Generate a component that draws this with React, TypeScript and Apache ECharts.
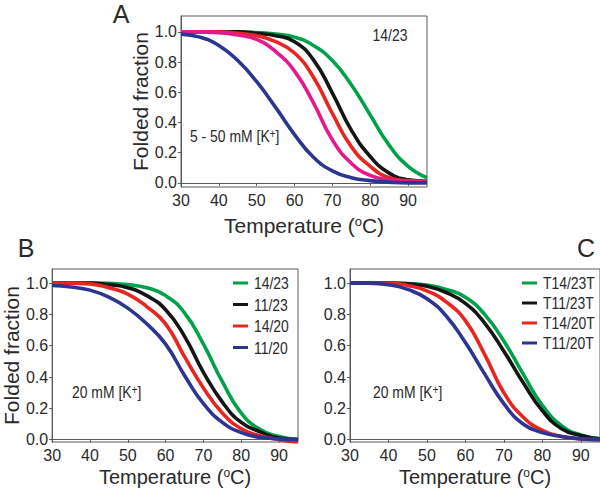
import React, { useEffect, useRef } from "react";
import * as echarts from "echarts";

const temps = [30, 35, 40, 45, 50, 55, 60, 65, 70, 75, 80, 85, 90, 95];
const xTicks = [30, 40, 50, 60, 70, 80, 90];
const yTicks = [0, 0.2, 0.4, 0.6, 0.8, 1.0];

// Panel A: 14/23 at 5 - 50 mM K+
const aGreen = [1.0, 1.0, 1.0, 1.0, 0.995, 0.985, 0.965, 0.91, 0.81, 0.65, 0.45, 0.25, 0.11, 0.035];
const aBlack = [1.0, 1.0, 1.0, 1.0, 0.99, 0.975, 0.935, 0.815, 0.595, 0.35, 0.175, 0.065, 0.02, 0.01];
const aRed = [1.0, 1.0, 1.0, 0.99, 0.975, 0.935, 0.86, 0.7, 0.46, 0.24, 0.11, 0.035, 0.015, 0.01];
const aMagenta = [1.0, 1.0, 0.995, 0.98, 0.95, 0.87, 0.74, 0.53, 0.285, 0.13, 0.05, 0.02, 0.01, 0.005];
const aBlue = [0.985, 0.965, 0.91, 0.81, 0.67, 0.5, 0.32, 0.17, 0.08, 0.035, 0.015, 0.005, 0.0, 0.0];

// Panel B: 20 mM K+
const bNames = ["14/23", "11/23", "14/20", "11/20"];
const bGreen = [1.0, 1.0, 1.0, 0.998, 0.99, 0.97, 0.92, 0.81, 0.61, 0.37, 0.17, 0.065, 0.02, 0.0];
const bBlack = [1.0, 1.0, 1.0, 0.99, 0.97, 0.92, 0.83, 0.66, 0.43, 0.24, 0.11, 0.05, 0.01, 0.0];
const bRed = [1.0, 1.0, 0.995, 0.97, 0.93, 0.85, 0.74, 0.53, 0.33, 0.17, 0.07, 0.025, 0.0, -0.015];
const bBlue = [0.985, 0.975, 0.955, 0.91, 0.84, 0.74, 0.61, 0.41, 0.23, 0.11, 0.045, 0.015, 0.005, 0.0];

// Panel C: 20 mM K+
const cNames = ["T14/23T", "T11/23T", "T14/20T", "T11/20T"];
const cGreen = [1.0, 1.0, 1.0, 0.997, 0.987, 0.96, 0.91, 0.8, 0.63, 0.42, 0.22, 0.09, 0.03, 0.005];
const cBlack = [1.0, 1.0, 1.0, 0.995, 0.98, 0.94, 0.87, 0.745, 0.565, 0.365, 0.185, 0.07, 0.027, 0.005];
const cRed = [1.0, 1.0, 1.0, 0.985, 0.95, 0.88, 0.76, 0.545, 0.3, 0.145, 0.06, 0.02, 0.005, 0.0];
const cBlue = [1.0, 1.0, 0.99, 0.96, 0.9, 0.79, 0.62, 0.42, 0.23, 0.1, 0.045, 0.02, 0.005, 0.0];

const GREEN = "#00a14b";
const BLACK = "#151515";
const RED = "#e8251f";
const MAGENTA = "#e6198c";
const BLUE = "#2c3592";
const COLORS4 = [GREEN, BLACK, RED, BLUE];

const FONT = "'Liberation Sans', Arial, Helvetica, sans-serif";
const AXIS = "#5a5a5a";
const TEXT = "#2a2a2a";
const NARROW_SCALE = 0.82;

const pairs = (vals: number[]) => temps.map((t, i) => [t, vals[i]]);

const tempName = "{n|Temperature (}{s|o}{n|C)}";
const tempRich = (size: number) => ({
  n: { fontSize: size, fontFamily: FONT, color: TEXT },
  s: { fontSize: Math.round(size * 0.6), fontFamily: FONT, color: TEXT, verticalAlign: "top" as const },
});

function xAxisFor(gridIndex: number, size: number, gap: number) {
  return {
    type: "value" as const,
    gridIndex,
    min: 30,
    max: 95,
    interval: 10,
    name: tempName,
    nameLocation: "middle" as const,
    nameGap: gap,
    nameTextStyle: { rich: tempRich(size) },
    axisLine: { show: true, lineStyle: { color: AXIS, width: 1 } },
    axisTick: { show: true, inside: false, length: 3, lineStyle: { color: AXIS }, customValues: xTicks },
    axisLabel: { fontSize: 16, fontFamily: FONT, color: TEXT, margin: 5, customValues: xTicks },
    splitLine: { show: false },
  };
}

function yAxisFor(gridIndex: number, min: number, max: number, name: string) {
  return {
    type: "value" as const,
    gridIndex,
    min,
    max,
    name,
    nameLocation: "middle" as const,
    nameGap: 26,
    nameTextStyle: { fontSize: 21, fontFamily: FONT, color: TEXT },
    axisLine: { show: true, lineStyle: { color: AXIS, width: 1 } },
    axisTick: { show: true, inside: false, length: 3, lineStyle: { color: AXIS }, customValues: yTicks },
    axisLabel: {
      fontSize: 16,
      fontFamily: FONT,
      color: TEXT,
      margin: 4,
      customValues: yTicks,
      formatter: (v: number) => v.toFixed(1),
    },
    splitLine: { show: false },
  };
}

function lineSeries(name: string, vals: number[], color: string, idx: number) {
  return {
    type: "line" as const,
    name,
    xAxisIndex: idx,
    yAxisIndex: idx,
    data: pairs(vals),
    smooth: 0.5,
    showSymbol: false,
    symbol: "none",
    clip: false,
    lineStyle: { color, width: 3.6 },
    itemStyle: { color },
  };
}

const kRich = {
  n: { fontSize: 17, fontFamily: FONT, color: TEXT },
  s: { fontSize: 12, fontFamily: FONT, color: TEXT, verticalAlign: "top" as const },
};

function legendGraphic(names: string[], left: number, top: number, gap: number) {
  const children: any[] = [];
  names.forEach((nm, i) => {
    const y = top + i * gap;
    children.push({
      type: "rect",
      shape: { x: left, y: y - 1.5, width: 15, height: 3 },
      style: { fill: COLORS4[i] },
    });
    children.push({
      type: "text",
      x: left + 21,
      y,
      scaleX: NARROW_SCALE,
      style: { text: nm, font: `17px ${FONT}`, fill: TEXT, align: "left", verticalAlign: "middle" },
    });
  });
  return { type: "group", children };
}

export default function App() {
  const ref = useRef<HTMLDivElement>(null);

  useEffect(() => {
    if (!ref.current) return;
    const chart = echarts.init(ref.current, undefined, { renderer: "svg" });
    const option = {
      animation: false,
      backgroundColor: "#ffffff",
      grid: [
        { left: 181, top: 16, width: 246, height: 171, show: true, borderColor: AXIS, borderWidth: 1, backgroundColor: "transparent" },
        { left: 49, top: 269, width: 249, height: 173, show: true, borderColor: AXIS, borderWidth: 1, backgroundColor: "transparent" },
        { left: 350, top: 269, width: 250, height: 173, show: true, borderColor: AXIS, borderWidth: 1, backgroundColor: "transparent" },
      ],
      xAxis: [xAxisFor(0, 21, 28), xAxisFor(1, 20, 25), xAxisFor(2, 20, 25)],
      yAxis: [
        yAxisFor(0, -0.027, 1.105, "Folded fraction"),
        yAxisFor(1, -0.015, 1.09, "Folded fraction"),
        yAxisFor(2, -0.015, 1.09, ""),
      ],
      series: [
        lineSeries("A 14/23 green", aGreen, GREEN, 0),
        lineSeries("A 14/23 black", aBlack, BLACK, 0),
        lineSeries("A 14/23 red", aRed, RED, 0),
        lineSeries("A 14/23 magenta", aMagenta, MAGENTA, 0),
        lineSeries("A 14/23 blue", aBlue, BLUE, 0),
        lineSeries(bNames[0], bGreen, GREEN, 1),
        lineSeries(bNames[1], bBlack, BLACK, 1),
        lineSeries(bNames[2], bRed, RED, 1),
        lineSeries(bNames[3], bBlue, BLUE, 1),
        lineSeries(cNames[0], cGreen, GREEN, 2),
        lineSeries(cNames[1], cBlack, BLACK, 2),
        lineSeries(cNames[2], cRed, RED, 2),
        lineSeries(cNames[3], cBlue, BLUE, 2),
      ],
      graphic: [
        { type: "text", x: 121, y: 14, style: { text: "A", font: `25px ${FONT}`, fill: TEXT, align: "center", verticalAlign: "middle" } },
        { type: "text", x: 26, y: 248, style: { text: "B", font: `25px ${FONT}`, fill: TEXT, align: "center", verticalAlign: "middle" } },
        { type: "text", x: 586, y: 248, style: { text: "C", font: `25px ${FONT}`, fill: TEXT, align: "center", verticalAlign: "middle" } },
        { type: "text", x: 390, y: 35, scaleX: NARROW_SCALE, style: { text: "14/23", font: `17px ${FONT}`, fill: TEXT, align: "center", verticalAlign: "middle" } },
        { type: "text", x: 190, y: 136, scaleX: NARROW_SCALE, style: { text: "{n|5 - 50 mM [K}{s|+}{n|]}", rich: kRich, fill: TEXT, align: "left", verticalAlign: "middle" } },
        { type: "text", x: 72, y: 392, scaleX: NARROW_SCALE, style: { text: "{n|20 mM [K}{s|+}{n|]}", rich: kRich, fill: TEXT, align: "left", verticalAlign: "middle" } },
        { type: "text", x: 373, y: 392, scaleX: NARROW_SCALE, style: { text: "{n|20 mM [K}{s|+}{n|]}", rich: kRich, fill: TEXT, align: "left", verticalAlign: "middle" } },
        legendGraphic(bNames, 233, 283, 21.5),
        legendGraphic(cNames, 522, 283, 20),
      ],
    };
    chart.setOption(option as any);
    return () => {
      chart.dispose();
    };
  }, []);

  return (
    <div
      ref={ref}
      style={{ position: "absolute", left: 0, top: 0, width: 600, height: 493, background: "#fff" }}
    />
  );
}
